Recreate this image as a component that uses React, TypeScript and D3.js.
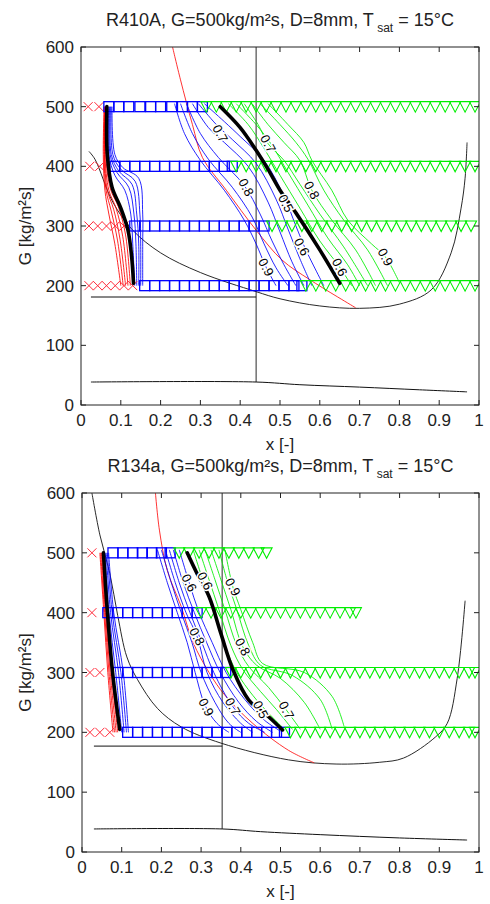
import React, { useEffect, useRef } from 'react';
import * as d3 from 'd3';

type Pt = [number, number];
type Row = [number, number[]];
type Label = [number, number, string];

const xTicks = [0, 0.1, 0.2, 0.3, 0.4, 0.5, 0.6, 0.7, 0.8, 0.9, 1];
const xTickLabels = ['0', '0.1', '0.2', '0.3', '0.4', '0.5', '0.6', '0.7', '0.8', '0.9', '1'];
const gTicks = [0, 100, 200, 300, 400, 500, 600];

// ---------- R410A ----------
const r410Cross: Row[] = [
  [500, [0.018, 0.045]],
  [400, [0.022, 0.047]],
  [300, [0.02, 0.042, 0.064, 0.086, 0.108]],
  [200, [0.02, 0.042, 0.064, 0.086, 0.108, 0.13]],
];
const r410Squares: Row[] = [
  [500, [0.07, 0.095, 0.12, 0.148, 0.175, 0.2, 0.228, 0.255, 0.28, 0.305]],
  [400, [0.085, 0.11, 0.135, 0.16, 0.185, 0.21, 0.235, 0.26, 0.285, 0.31, 0.335, 0.36, 0.38]],
  [300, [0.135, 0.16, 0.185, 0.21, 0.235, 0.26, 0.285, 0.31, 0.335, 0.36, 0.385, 0.41, 0.435, 0.46]],
  [200, [0.16, 0.185, 0.21, 0.235, 0.26, 0.285, 0.31, 0.335, 0.36, 0.385, 0.41, 0.435, 0.46, 0.485, 0.51, 0.535, 0.555]],
];
const r410Triangles: Row[] = [
  [500, [0.315, 0.34, 0.365, 0.39, 0.415, 0.44, 0.465, 0.49, 0.515, 0.54, 0.565, 0.59, 0.615, 0.64, 0.665, 0.69, 0.715, 0.74, 0.765, 0.79, 0.815, 0.84, 0.865, 0.89, 0.915, 0.94, 0.965, 0.99]],
  [400, [0.39, 0.415, 0.44, 0.465, 0.49, 0.515, 0.54, 0.565, 0.59, 0.615, 0.64, 0.665, 0.69, 0.715, 0.74, 0.765, 0.79, 0.815, 0.84, 0.865, 0.89, 0.915, 0.94, 0.965, 0.99]],
  [300, [0.48, 0.505, 0.53, 0.555, 0.58, 0.605, 0.63, 0.655, 0.68, 0.705, 0.73, 0.755, 0.78, 0.805, 0.83, 0.855, 0.88, 0.905, 0.93, 0.955, 0.98]],
  [200, [0.565, 0.59, 0.615, 0.64, 0.665, 0.69, 0.715, 0.74, 0.765, 0.79, 0.815, 0.84, 0.865, 0.89, 0.915, 0.94, 0.965, 0.99]],
];
const r410RedLeft: Pt[][] = [
  [[0.058, 500], [0.056, 420], [0.06, 360], [0.07, 320], [0.085, 270], [0.1, 200]],
  [[0.059, 500], [0.058, 420], [0.063, 360], [0.076, 325], [0.092, 275], [0.106, 200]],
  [[0.06, 500], [0.059, 420], [0.066, 360], [0.082, 328], [0.098, 278], [0.112, 200]],
  [[0.061, 500], [0.06, 420], [0.07, 360], [0.088, 330], [0.105, 282], [0.118, 200]],
  [[0.062, 500], [0.062, 420], [0.074, 362], [0.094, 332], [0.112, 285], [0.124, 200]],
];
const r410BlackLeft: Pt[] = [[0.065, 500], [0.066, 420], [0.078, 365], [0.1, 330], [0.118, 293], [0.127, 250], [0.132, 204]];
const r410BlueLeft: Pt[][] = [
  [[0.07, 500], [0.07, 420], [0.085, 385], [0.11, 360], [0.125, 320], [0.13, 270], [0.135, 200]],
  [[0.072, 500], [0.073, 420], [0.09, 390], [0.12, 365], [0.133, 320], [0.138, 270], [0.14, 200]],
  [[0.074, 500], [0.076, 420], [0.095, 392], [0.128, 370], [0.14, 320], [0.145, 270], [0.145, 200]],
  [[0.076, 500], [0.08, 420], [0.1, 395], [0.136, 375], [0.148, 320], [0.15, 270], [0.15, 200]],
  [[0.078, 500], [0.085, 420], [0.105, 398], [0.145, 380], [0.155, 320], [0.155, 270], [0.155, 200]],
];
const r410BlueRight: Pt[][] = [
  [[0.235, 505], [0.26, 455], [0.3, 410], [0.36, 360], [0.41, 310], [0.44, 270], [0.465, 231], [0.49, 200]],
  [[0.25, 505], [0.28, 455], [0.32, 412], [0.38, 365], [0.43, 315], [0.46, 270], [0.49, 230], [0.52, 200]],
  [[0.265, 505], [0.3, 455], [0.345, 415], [0.41, 368], [0.45, 320], [0.48, 275], [0.51, 235], [0.54, 200]],
  [[0.28, 505], [0.32, 465], [0.36, 440], [0.42, 400], [0.47, 340], [0.5, 290], [0.53, 240], [0.56, 200]],
  [[0.295, 505], [0.34, 470], [0.38, 445], [0.44, 405], [0.49, 345], [0.52, 295], [0.55, 245], [0.58, 200]],
  [[0.31, 505], [0.36, 475], [0.4, 450], [0.46, 410], [0.51, 350], [0.54, 300], [0.565, 260], [0.61, 200]],
];
const r410BlackRight: Pt[] = [[0.35, 500], [0.4, 465], [0.44, 427], [0.47, 395], [0.5, 360], [0.54, 322], [0.6, 260], [0.65, 204]];
const r410GreenRight: Pt[][] = [
  [[0.37, 505], [0.42, 470], [0.46, 430], [0.5, 385], [0.55, 330], [0.6, 275], [0.65, 231], [0.68, 200]],
  [[0.39, 505], [0.44, 470], [0.48, 435], [0.52, 390], [0.57, 335], [0.62, 280], [0.67, 235], [0.7, 200]],
  [[0.41, 505], [0.445, 470], [0.47, 438], [0.51, 410], [0.55, 370], [0.6, 320], [0.66, 265], [0.72, 200]],
  [[0.43, 505], [0.47, 470], [0.51, 440], [0.55, 410], [0.58, 360], [0.63, 310], [0.69, 260], [0.74, 200]],
  [[0.45, 505], [0.5, 470], [0.54, 440], [0.57, 412], [0.61, 360], [0.66, 310], [0.72, 260], [0.77, 200]],
  [[0.47, 505], [0.52, 470], [0.56, 440], [0.58, 410], [0.63, 360], [0.67, 310], [0.73, 270], [0.765, 248], [0.8, 205]],
];
const r410Labels: Label[] = [
  [0.35, 455, '0.7'], [0.415, 365, '0.8'], [0.465, 231, '0.9'], [0.555, 265, '0.6'],
  [0.515, 338, '0.5'],
  [0.47, 438, '0.7'], [0.58, 360, '0.8'], [0.765, 248, '0.9'], [0.65, 231, '0.6'],
];
const r410Boundary: Pt[] = [[0.02, 425], [0.035, 412], [0.08, 340], [0.13, 293], [0.2, 255], [0.3, 222], [0.44, 190], [0.5, 178], [0.6, 166], [0.7, 162], [0.8, 169], [0.88, 193], [0.93, 255], [0.955, 330], [0.965, 380], [0.97, 440]];
const r410RedBoundary: Pt[] = [[0.23, 600], [0.25, 545], [0.28, 470], [0.305, 415], [0.365, 360], [0.44, 293], [0.505, 243], [0.575, 210], [0.69, 163]];
const r410Low: Pt[] = [[0.025, 38.5], [0.44, 38.5], [0.55, 34], [0.7, 30], [0.85, 25.5], [0.97, 22]];
const r410Strat: Pt[] = [[0.025, 181], [0.44, 181]];
const r410Xia = 0.44;

// ---------- R134a ----------
const r134Cross: Row[] = [
  [500, [0.025]],
  [400, [0.025]],
  [300, [0.02, 0.045]],
  [200, [0.02, 0.045, 0.07]],
];
const r134Squares: Row[] = [
  [500, [0.078, 0.103, 0.128, 0.152, 0.176, 0.2, 0.222]],
  [400, [0.065, 0.09, 0.115, 0.14, 0.165, 0.19, 0.215, 0.24, 0.265, 0.29]],
  [300, [0.09, 0.115, 0.14, 0.165, 0.19, 0.215, 0.24, 0.265, 0.29, 0.315, 0.34, 0.362]],
  [200, [0.115, 0.14, 0.165, 0.19, 0.215, 0.24, 0.265, 0.29, 0.315, 0.34, 0.365, 0.39, 0.415, 0.44, 0.465, 0.49, 0.51]],
];
const r134Triangles: Row[] = [
  [500, [0.245, 0.27, 0.295, 0.32, 0.345, 0.37, 0.395, 0.42, 0.445, 0.465]],
  [400, [0.3, 0.325, 0.35, 0.375, 0.4, 0.425, 0.45, 0.475, 0.5, 0.525, 0.55, 0.575, 0.6, 0.625, 0.65, 0.675, 0.69]],
  [300, [0.375, 0.4, 0.425, 0.45, 0.475, 0.5, 0.525, 0.55, 0.575, 0.6, 0.625, 0.65, 0.675, 0.7, 0.725, 0.75, 0.775, 0.8, 0.825, 0.85, 0.875, 0.9, 0.925, 0.95, 0.975, 0.99]],
  [200, [0.525, 0.55, 0.575, 0.6, 0.625, 0.65, 0.675, 0.7, 0.725, 0.75, 0.775, 0.8, 0.825, 0.85, 0.875, 0.9, 0.925, 0.95, 0.975, 0.99]],
];
const r134RedLeft: Pt[][] = [
  [[0.045, 500], [0.055, 400], [0.065, 300], [0.078, 200]],
  [[0.047, 500], [0.057, 400], [0.068, 300], [0.082, 200]],
  [[0.049, 500], [0.059, 400], [0.071, 300], [0.086, 200]],
  [[0.051, 500], [0.061, 400], [0.074, 300], [0.09, 200]],
];
const r134BlackLeft: Pt[] = [[0.054, 500], [0.064, 400], [0.077, 300], [0.095, 205]];
const r134BlueLeft: Pt[][] = [
  [[0.058, 500], [0.068, 400], [0.085, 300], [0.1, 200]],
  [[0.061, 500], [0.072, 400], [0.092, 300], [0.106, 200]],
  [[0.064, 500], [0.076, 400], [0.098, 300], [0.112, 200]],
  [[0.067, 500], [0.08, 400], [0.104, 300], [0.117, 200]],
];
const r134BlueRight: Pt[][] = [
  [[0.19, 505], [0.215, 450], [0.24, 400], [0.265, 350], [0.285, 300], [0.31, 245], [0.34, 215], [0.37, 200]],
  [[0.2, 505], [0.225, 450], [0.25, 400], [0.277, 350], [0.3, 300], [0.335, 250], [0.37, 215], [0.4, 200]],
  [[0.21, 505], [0.235, 450], [0.262, 400], [0.29, 360], [0.315, 300], [0.355, 250], [0.4, 215], [0.43, 200]],
  [[0.22, 505], [0.245, 450], [0.272, 400], [0.302, 350], [0.332, 300], [0.38, 243], [0.42, 215], [0.46, 200]],
  [[0.23, 505], [0.255, 450], [0.283, 400], [0.314, 350], [0.348, 300], [0.395, 250], [0.44, 218], [0.48, 200]],
  [[0.245, 505], [0.27, 450], [0.295, 400], [0.328, 350], [0.363, 300], [0.41, 255], [0.46, 220], [0.5, 202]],
];
const r134BlackRight: Pt[] = [[0.265, 500], [0.29, 465], [0.32, 427], [0.35, 365], [0.38, 305], [0.42, 254], [0.47, 226], [0.505, 204]];
const r134GreenRight: Pt[][] = [
  [[0.28, 505], [0.305, 453], [0.33, 405], [0.36, 345], [0.39, 300], [0.43, 262], [0.47, 232], [0.51, 205]],
  [[0.295, 505], [0.32, 455], [0.345, 405], [0.375, 345], [0.405, 305], [0.45, 268], [0.49, 238], [0.53, 205]],
  [[0.31, 505], [0.335, 455], [0.36, 405], [0.39, 345], [0.42, 310], [0.47, 275], [0.515, 237], [0.55, 205]],
  [[0.325, 505], [0.35, 455], [0.375, 405], [0.405, 343], [0.44, 312], [0.5, 290], [0.56, 250], [0.6, 205]],
  [[0.345, 505], [0.365, 455], [0.39, 405], [0.42, 345], [0.45, 312], [0.53, 295], [0.6, 255], [0.63, 205]],
  [[0.36, 505], [0.38, 443], [0.4, 405], [0.43, 350], [0.455, 315], [0.56, 300], [0.63, 260], [0.66, 210]],
];
const r134Labels: Label[] = [
  [0.27, 450, '0.6'], [0.29, 360, '0.8'], [0.313, 242, '0.9'], [0.38, 243, '0.7'],
  [0.45, 238, '0.5'],
  [0.31, 453, '0.6'], [0.38, 443, '0.9'], [0.405, 343, '0.8'], [0.515, 237, '0.7'],
];
const r134Boundary: Pt[] = [[0.025, 600], [0.045, 530], [0.07, 466], [0.09, 395], [0.113, 326], [0.14, 288], [0.19, 240], [0.25, 209], [0.35, 182], [0.52, 154], [0.64, 147], [0.75, 150], [0.81, 157], [0.89, 192], [0.92, 215], [0.945, 290], [0.965, 420]];
const r134RedBoundary: Pt[] = [[0.185, 600], [0.195, 538], [0.215, 470], [0.25, 410], [0.28, 350], [0.32, 300], [0.36, 262], [0.43, 215], [0.52, 170], [0.585, 149]];
const r134Low: Pt[] = [[0.03, 38.5], [0.353, 38.5], [0.45, 34], [0.6, 29], [0.8, 23.5], [0.97, 20]];
const r134Strat: Pt[] = [[0.03, 177], [0.353, 177]];
const r134Xia = 0.353;

const FONT = '"Liberation Sans", Arial, sans-serif';
const RED = '#ff0000';
const BLUE = '#0000ff';
const GREEN = '#00ee00';

const drawPanel = (svg, p) => {
  const x = d3.scaleLinear().domain([0, 1]).range([p.left, p.right]);
  const y = d3.scaleLinear().domain([0, 600]).range([p.bottom, p.top]);
  const g = svg.append('g');

  const smooth = d3.line<Pt>().x((d) => x(d[0])).y((d) => y(d[1])).curve(d3.curveCatmullRom.alpha(0.5));
  const straight = d3.line<Pt>().x((d) => x(d[0])).y((d) => y(d[1]));

  const clipId = 'clip-' + p.id;
  g.append('clipPath').attr('id', clipId).append('rect')
    .attr('x', p.left).attr('y', p.top).attr('width', p.right - p.left).attr('height', p.bottom - p.top);
  const plot = g.append('g').attr('clip-path', `url(#${clipId})`);

  // thin boundary lines
  plot.append('path').attr('d', smooth(p.boundary)).attr('fill', 'none').attr('stroke', '#111').attr('stroke-width', 0.9);
  plot.append('path').attr('d', smooth(p.redBoundary)).attr('fill', 'none').attr('stroke', RED).attr('stroke-width', 0.8);
  plot.append('path').attr('d', smooth(p.low)).attr('fill', 'none').attr('stroke', '#111').attr('stroke-width', 1);
  plot.append('path').attr('d', straight(p.strat)).attr('fill', 'none').attr('stroke', '#111').attr('stroke-width', 1);
  plot.append('line')
    .attr('x1', x(p.xia)).attr('x2', x(p.xia)).attr('y1', y(600)).attr('y2', y(p.low[1][1]))
    .attr('stroke', '#111').attr('stroke-width', 0.9);

  // thin contour lines
  const thin = (lines, color) => {
    plot.selectAll(null).data(lines).enter().append('path')
      .attr('d', (d) => smooth(d)).attr('fill', 'none').attr('stroke', color).attr('stroke-width', 0.85);
  };
  thin(p.redLeft, RED);
  thin(p.blueLeft, BLUE);
  thin(p.blueRight, BLUE);
  thin(p.greenRight, GREEN);

  // markers
  const flat = (rows) => rows.flatMap(([gv, xs]) => xs.map((xv) => [xv, gv]));
  plot.selectAll(null).data(flat(p.cross)).enter().append('path')
    .attr('d', (d) => {
      const cx = x(d[0]), cy = y(d[1]), s = 4.5;
      return `M${cx - s},${cy - s}L${cx + s},${cy + s}M${cx - s},${cy + s}L${cx + s},${cy - s}`;
    })
    .attr('stroke', '#ff2a3a').attr('stroke-width', 1).attr('fill', 'none');
  plot.selectAll(null).data(flat(p.squares)).enter().append('rect')
    .attr('x', (d) => x(d[0]) - 5).attr('y', (d) => y(d[1]) - 5)
    .attr('width', 10).attr('height', 10)
    .attr('fill', 'none').attr('stroke', BLUE).attr('stroke-width', 1.3);
  plot.selectAll(null).data(flat(p.triangles)).enter().append('path')
    .attr('d', (d) => {
      const cx = x(d[0]), cy = y(d[1]);
      return `M${cx - 5.5},${cy - 5}L${cx + 5.5},${cy - 5}L${cx},${cy + 5.5}Z`;
    })
    .attr('fill', 'none').attr('stroke', GREEN).attr('stroke-width', 1.1);

  // thick black transition lines
  [p.blackLeft, p.blackRight].forEach((ln) => {
    plot.append('path').attr('d', smooth(ln)).attr('fill', 'none')
      .attr('stroke', '#000').attr('stroke-width', 3.6).attr('stroke-linecap', 'round');
  });

  // contour labels
  plot.selectAll(null).data(p.labels).enter().append('text')
    .attr('transform', (d) => `translate(${x(d[0])},${y(d[1])}) rotate(62)`)
    .attr('text-anchor', 'middle').attr('dy', '0.35em')
    .attr('font-family', FONT).attr('font-size', 13)
    .attr('stroke', '#fff').attr('stroke-width', 3).attr('paint-order', 'stroke')
    .attr('fill', '#000')
    .text((d) => d[2]);

  // frame and ticks
  g.append('rect').attr('x', p.left).attr('y', p.top)
    .attr('width', p.right - p.left).attr('height', p.bottom - p.top)
    .attr('fill', 'none').attr('stroke', '#222').attr('stroke-width', 1);
  const tk = 5;
  xTicks.forEach((t, i) => {
    g.append('line').attr('x1', x(t)).attr('x2', x(t)).attr('y1', p.bottom).attr('y2', p.bottom - tk).attr('stroke', '#222');
    g.append('line').attr('x1', x(t)).attr('x2', x(t)).attr('y1', p.top).attr('y2', p.top + tk).attr('stroke', '#222');
    g.append('text').attr('x', x(t)).attr('y', p.bottom + 21)
      .attr('text-anchor', 'middle').attr('font-family', FONT).attr('font-size', 17).attr('fill', '#222')
      .text(xTickLabels[i]);
  });
  gTicks.forEach((t) => {
    g.append('line').attr('x1', p.left).attr('x2', p.left + tk).attr('y1', y(t)).attr('y2', y(t)).attr('stroke', '#222');
    g.append('line').attr('x1', p.right).attr('x2', p.right - tk).attr('y1', y(t)).attr('y2', y(t)).attr('stroke', '#222');
    g.append('text').attr('x', p.left - 7).attr('y', y(t)).attr('dy', '0.36em')
      .attr('text-anchor', 'end').attr('font-family', FONT).attr('font-size', 17).attr('fill', '#222')
      .text(String(t));
  });

  // titles
  const title = g.append('text').attr('x', (p.left + p.right) / 2).attr('y', p.top - 21)
    .attr('text-anchor', 'middle').attr('font-family', FONT).attr('font-size', 18).attr('fill', '#222');
  title.append('tspan').text(p.title);
  title.append('tspan').attr('dy', 6).attr('font-size', 12).text(' sat');
  title.append('tspan').attr('dy', -6).text(' = 15°C');

  g.append('text').attr('x', (p.left + p.right) / 2).attr('y', p.bottom + 45)
    .attr('text-anchor', 'middle').attr('font-family', FONT).attr('font-size', 17).attr('fill', '#222')
    .text('x [-]');
  const cy = (p.top + p.bottom) / 2;
  g.append('text').attr('transform', `translate(31,${cy}) rotate(-90)`)
    .attr('text-anchor', 'middle').attr('font-family', FONT).attr('font-size', 17).attr('fill', '#222')
    .text('G [kg/m²s]');
};

const App = () => {
  const svgRef = useRef(null);

  useEffect(() => {
    const svg = d3.select(svgRef.current);
    svg.selectAll('*').remove();

    drawPanel(svg, {
      id: 'r410', left: 81, right: 479, top: 47, bottom: 405,
      title: 'R410A, G=500kg/m²s, D=8mm, T',
      cross: r410Cross, squares: r410Squares, triangles: r410Triangles,
      redLeft: r410RedLeft, blackLeft: r410BlackLeft, blueLeft: r410BlueLeft,
      blueRight: r410BlueRight, blackRight: r410BlackRight, greenRight: r410GreenRight,
      labels: r410Labels, boundary: r410Boundary, redBoundary: r410RedBoundary,
      low: r410Low, strat: r410Strat, xia: r410Xia,
    });
    drawPanel(svg, {
      id: 'r134', left: 82, right: 479, top: 493, bottom: 852,
      title: 'R134a, G=500kg/m²s, D=8mm, T',
      cross: r134Cross, squares: r134Squares, triangles: r134Triangles,
      redLeft: r134RedLeft, blackLeft: r134BlackLeft, blueLeft: r134BlueLeft,
      blueRight: r134BlueRight, blackRight: r134BlackRight, greenRight: r134GreenRight,
      labels: r134Labels, boundary: r134Boundary, redBoundary: r134RedBoundary,
      low: r134Low, strat: r134Strat, xia: r134Xia,
    });
  }, []);

  return (
    <svg
      ref={svgRef}
      width={490}
      height={904}
      style={{ position: 'absolute', left: 0, top: 0, background: '#fff' }}
    />
  );
};

export default App;
